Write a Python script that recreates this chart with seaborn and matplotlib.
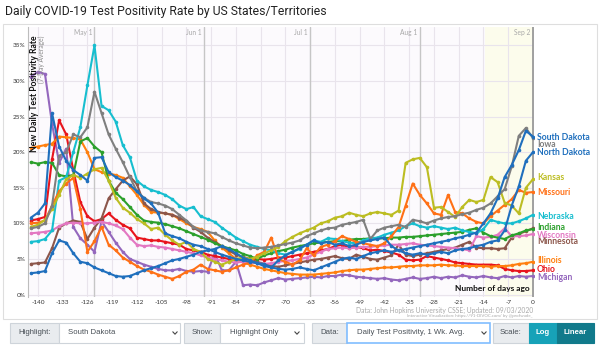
import numpy as np
import pandas as pd
import matplotlib
matplotlib.use("Agg")
import matplotlib.pyplot as plt
from matplotlib.patches import Rectangle
from matplotlib.lines import Line2D
import seaborn as sns

# Days before Sep 2, 2020 (every other day), 7-day average test positivity in %
days = list(range(-142, 1, 2))

south_dakota = [10.8, 11.5, 12.8, 25.5, 20.8, 18.8, 17.5, 16.8,
                16.0, 19.2, 19.3, 17.2, 16.5, 16.0, 15.4, 14.5,
                13.5, 12.8, 11.5, 8.6, 8.2, 7.9, 7.4, 7.0,
                6.8, 6.4, 6.0, 5.6, 5.3, 5.0, 4.8, 4.6,
                4.4, 4.3, 3.8, 4.8, 5.5, 6.0, 6.5, 7.0,
                7.6, 7.2, 7.4, 7.0, 7.2, 6.8, 7.0, 7.4,
                7.6, 7.8, 8.0, 6.8, 6.2, 6.4, 6.6, 6.8,
                7.0, 7.2, 7.4, 7.6, 7.9, 8.1, 8.4, 8.7,
                10.0, 11.4, 13.5, 16.5, 18.2, 20.3, 23.0, 22.2]
iowa = [9.3, 9.5, 10.0, 12.5, 19.5, 20.0, 22.5, 22.1,
        23.5, 28.5, 25.5, 22.5, 20.5, 18.6, 16.5, 14.5,
        13.6, 13.0, 12.8, 12.5, 12.0, 11.2, 10.4, 9.5,
        9.0, 8.8, 8.6, 8.1, 7.6, 7.2, 6.9, 6.6,
        6.5, 6.6, 6.7, 6.9, 7.1, 7.3, 7.6, 8.2,
        8.6, 9.0, 9.3, 9.4, 9.8, 10.0, 10.2, 10.5,
        7.8, 9.0, 9.4, 9.6, 9.8, 9.5, 10.5, 10.3,
        10.0, 10.4, 10.7, 10.9, 11.0, 11.3, 11.5, 11.9,
        12.2, 12.8, 13.8, 14.8, 18.0, 22.3, 23.4, 22.0]
north_dakota = [3.0, 3.1, 3.3, 5.8, 7.6, 7.3, 5.8, 4.6,
                4.4, 3.8, 3.4, 3.0, 2.6, 2.5, 2.6, 3.0,
                3.4, 3.7, 4.0, 4.4, 4.8, 5.0, 5.3, 5.6,
                6.0, 6.2, 6.4, 6.8, 6.4, 5.8, 5.2, 4.8,
                4.4, 4.0, 3.8, 3.6, 3.5, 3.6, 3.8, 3.6,
                3.4, 3.8, 4.2, 4.6, 5.0, 5.2, 5.0, 5.4,
                5.8, 6.0, 6.2, 6.0, 6.2, 5.8, 5.6, 5.8,
                5.6, 5.8, 6.0, 5.8, 6.2, 6.4, 6.5, 6.8,
                7.0, 7.4, 7.6, 9.0, 12.5, 15.2, 18.8, 20.0]
kansas = [9.5, 9.8, 10.5, 12.0, 14.0, 16.2, 16.8, 16.4,
          17.0, 17.6, 17.8, 16.0, 13.6, 12.2, 11.5, 10.6,
          10.0, 9.2, 9.4, 8.4, 7.6, 7.0, 7.4, 6.4,
          6.0, 5.0, 4.6, 4.2, 4.6, 5.0, 5.2, 5.0,
          5.3, 5.8, 6.2, 6.7, 7.5, 8.1, 8.6, 9.0,
          9.4, 10.0, 10.3, 10.8, 11.0, 11.5, 11.2, 11.0,
          11.4, 11.6, 11.4, 11.2, 11.8, 18.5, 19.0, 19.2,
          17.9, 12.2, 12.3, 11.6, 10.9, 12.3, 13.3, 13.0,
          13.3, 16.5, 15.8, 12.9, 12.5, 11.4, 15.0, 16.2]
missouri = [10.0, 10.1, 10.4, 12.5, 14.5, 15.6, 16.4, 12.0,
            6.0, 7.5, 9.5, 7.0, 6.2, 5.2, 4.6, 4.0,
            3.5, 3.2, 2.8, 2.5, 2.2, 2.6, 3.2, 3.5,
            4.2, 3.6, 3.4, 3.2, 3.4, 3.8, 4.2, 4.5,
            5.5, 6.0, 8.0, 5.0, 4.6, 4.2, 4.8, 6.5,
            5.5, 6.7, 7.0, 7.5, 8.2, 7.8, 7.4, 7.2,
            7.0, 6.8, 7.2, 8.2, 9.5, 12.5, 15.6, 14.0,
            12.8, 11.4, 11.2, 14.0, 11.6, 11.4, 10.7, 10.2,
            10.0, 11.0, 11.8, 12.6, 13.4, 14.7, 14.3, 14.4]
nebraska = [7.4, 7.5, 7.8, 9.0, 16.0, 16.5, 20.0, 23.5,
            29.4, 35.0, 26.5, 25.9, 24.3, 21.0, 19.3, 16.0,
            15.2, 14.7, 14.4, 14.0, 13.4, 12.5, 12.0, 12.3,
            11.0, 10.6, 10.2, 9.4, 8.7, 8.0, 7.5, 7.0,
            6.7, 6.4, 6.2, 5.8, 5.6, 6.0, 6.4, 7.0,
            7.6, 7.4, 7.9, 7.8, 7.5, 7.3, 7.2, 7.6,
            7.9, 8.0, 8.4, 8.7, 9.0, 9.6, 10.0, 9.6,
            9.4, 9.6, 9.4, 9.2, 9.4, 9.0, 8.8, 8.6,
            9.2, 10.5, 10.2, 10.0, 10.0, 10.3, 10.7, 11.2]
indiana = [18.6, 18.4, 18.6, 18.5, 16.8, 16.6, 16.8, 21.5,
           22.0, 20.8, 20.0, 16.0, 14.3, 13.4, 12.3, 11.2,
           10.4, 10.2, 10.1, 9.9, 9.6, 9.3, 8.9, 8.5,
           8.1, 7.7, 7.2, 6.8, 6.5, 6.2, 5.7, 5.4,
           5.0, 5.5, 5.8, 6.1, 6.3, 6.6, 6.8, 7.0,
           7.2, 7.3, 7.4, 7.5, 7.5, 7.7, 7.8, 7.8,
           7.9, 7.9, 7.9, 8.0, 8.0, 8.1, 8.1, 8.2,
           8.3, 8.4, 8.5, 8.6, 8.7, 8.8, 9.1, 9.3,
           8.7, 8.2, 8.0, 7.8, 8.3, 8.6, 9.0, 9.2]
wisconsin = [8.6, 8.7, 8.8, 9.0, 9.6, 10.0, 10.1, 10.0,
             10.0, 10.1, 10.2, 10.0, 9.7, 9.2, 8.0, 7.0,
             6.8, 6.9, 6.7, 6.6, 6.4, 6.2, 6.0, 5.8,
             5.5, 5.2, 5.0, 4.8, 4.6, 4.5, 4.6, 4.5,
             4.4, 4.3, 4.4, 4.6, 4.7, 4.8, 5.0, 5.2,
             5.6, 6.0, 6.4, 6.5, 6.6, 6.5, 6.6, 6.7,
             6.7, 6.8, 6.9, 7.0, 7.0, 7.1, 7.2, 7.0,
             6.9, 6.8, 6.7, 6.6, 6.5, 6.4, 6.2, 8.2,
             8.0, 8.1, 8.4, 9.3, 8.2, 8.2, 8.3, 8.5]
minnesota = [4.3, 4.4, 4.5, 6.5, 9.4, 10.0, 10.4, 10.2,
             7.8, 9.4, 10.7, 13.5, 14.8, 16.0, 16.6, 15.5,
             12.8, 12.0, 11.6, 11.4, 11.2, 10.8, 10.3, 9.4,
             8.8, 8.0, 7.4, 6.8, 6.2, 5.6, 5.3, 5.0,
             4.6, 4.3, 4.0, 3.9, 4.1, 4.3, 4.5, 4.7,
             4.9, 5.0, 5.2, 5.4, 5.1, 5.0, 5.6, 5.3,
             5.0, 4.9, 5.2, 5.5, 7.0, 5.6, 5.4, 5.6,
             5.8, 6.0, 6.2, 6.4, 6.6, 7.0, 7.4, 6.6,
             6.5, 6.5, 6.4, 6.5, 8.0, 8.5, 8.9, 9.3]
illinois = [20.6, 20.8, 21.0, 21.2, 22.2, 22.1, 22.0, 21.8,
            20.0, 17.6, 17.2, 17.0, 16.8, 16.4, 15.2, 14.0,
            12.6, 11.6, 11.5, 11.4, 11.2, 10.6, 10.0, 9.5,
            9.2, 8.8, 7.6, 6.6, 5.8, 5.0, 4.5, 4.2,
            3.9, 3.6, 3.4, 3.2, 3.0, 2.9, 2.8, 2.8,
            2.8, 2.9, 3.0, 3.1, 3.3, 3.4, 3.5, 3.5,
            3.6, 3.7, 3.8, 3.8, 3.9, 4.0, 4.0, 4.1,
            4.1, 4.1, 4.2, 4.1, 4.1, 4.0, 4.0, 4.0,
            4.0, 3.9, 4.0, 4.0, 4.1, 4.3, 4.4, 4.6]
ohio = [10.4, 10.6, 10.9, 19.0, 24.5, 22.5, 17.5, 13.0,
        11.0, 10.3, 10.6, 11.4, 10.5, 9.8, 9.3, 8.0,
        7.8, 7.6, 7.6, 7.4, 7.2, 7.0, 6.4, 6.2,
        6.0, 5.6, 5.4, 5.2, 5.0, 4.8, 4.9, 5.0,
        5.0, 4.9, 5.0, 5.2, 5.2, 5.4, 5.6, 5.8,
        6.0, 6.2, 6.4, 6.8, 7.0, 6.6, 6.7, 6.5,
        6.2, 6.3, 6.1, 5.9, 5.6, 4.9, 4.8, 4.9,
        5.4, 5.2, 5.0, 4.8, 4.5, 4.4, 4.3, 4.2,
        4.2, 4.2, 4.1, 3.6, 3.4, 3.3, 3.3, 3.4]
michigan = [30.6, 31.3, 31.0, 24.0, 18.5, 20.5, 9.5, 7.9,
            7.0, 6.0, 10.3, 8.8, 7.3, 6.0, 5.0, 4.6,
            4.2, 3.9, 3.6, 3.4, 3.4, 3.6, 3.3, 3.2,
            3.3, 3.2, 5.8, 3.4, 3.4, 4.6, 1.3, 1.4,
            1.3, 1.7, 2.0, 2.3, 2.1, 2.2, 2.3, 2.4,
            2.5, 2.4, 2.6, 2.6, 2.8, 2.7, 2.5, 2.4,
            2.3, 2.2, 2.3, 2.1, 2.0, 2.2, 2.4, 2.2,
            2.3, 2.5, 2.3, 2.5, 2.4, 2.7, 2.5, 2.4,
            2.6, 2.4, 2.3, 2.6, 2.4, 2.6, 2.5, 2.6]

states = ["Michigan", "Ohio", "Illinois", "Minnesota", "Wisconsin", "Indiana",
          "Nebraska", "Missouri", "Kansas", "North Dakota", "Iowa", "South Dakota"]
values = {"South Dakota": south_dakota, "Iowa": iowa, "North Dakota": north_dakota,
          "Kansas": kansas, "Missouri": missouri, "Nebraska": nebraska,
          "Indiana": indiana, "Wisconsin": wisconsin, "Minnesota": minnesota,
          "Illinois": illinois, "Ohio": ohio, "Michigan": michigan}
colors = {"South Dakota": "#1f6fbd", "Iowa": "#7f7f7f", "North Dakota": "#1f6fbd",
          "Kansas": "#bcbd22", "Missouri": "#ff7016", "Nebraska": "#17becf",
          "Indiana": "#2ca02c", "Wisconsin": "#e377c2", "Minnesota": "#8c564b",
          "Illinois": "#ff7f0e", "Ohio": "#e8141c", "Michigan": "#9467bd"}
# vertical position (in %) of the end-of-line name labels, spread to limit overlap
label_pos = {"South Dakota": 22.1, "Iowa": 21.05, "North Dakota": 20.0,
             "Kansas": 16.5, "Missouri": 14.4, "Nebraska": 10.9,
             "Indiana": 9.35, "Wisconsin": 8.35, "Minnesota": 7.5,
             "Illinois": 4.85, "Ohio": 3.55, "Michigan": 2.45}

month_days = [-124, -93, -63, -32, 0]
month_names = ["May 1", "Jun 1", "Jul 1", "Aug 1", "Sep 2"]
x_ticks = list(range(-140, 1, 7))
y_ticks = list(range(0, 36, 5))

W, H = 600, 346
sns.set_theme(style="white")
plt.rcParams["font.family"] = ["Lato", "DejaVu Sans"]

df = pd.DataFrame([(s, d, v) for s in states for d, v in zip(days, values[s])],
                  columns=["state", "day", "pct"])


def fx(px):
    return px / W


def fy(py):
    return 1 - py / H


fig = plt.figure(figsize=(W / 100, H / 100), dpi=100)
fig.patch.set_facecolor("white")

# outer chart frame
fig.add_artist(Rectangle((fx(3), fy(319)), fx(597) - fx(3), fy(24) - fy(319),
                         transform=fig.transFigure, facecolor="none",
                         edgecolor="#dedede", lw=0.8))

fig.text(fx(5), fy(11), "Daily COVID-19 Test Positivity Rate by US States/Territories",
         family=["Roboto", "DejaVu Sans"], fontsize=8.8, color="#222222",
         ha="left", va="center")

ax = fig.add_axes([fx(28), fy(297), fx(534) - fx(28), fy(27) - fy(297)])
ax.set_facecolor("#fcfafd")
ax.set_xlim(-142.8, 0.3)
ax.set_ylim(-0.35, 37.6)

ax.axvspan(-13.6, 0, color="#fcfcec", lw=0, zorder=0.3)
for t in x_ticks:
    ax.axvline(t, color="#e9e4ec", lw=0.8, zorder=0.5)
for v in y_ticks:
    ax.axhline(v, color="#e9e4ec", lw=0.8, zorder=0.5)
for d, name in zip(month_days, month_names):
    ax.axvline(d, color="#9a9a9a" if d == 0 else "#c6c6c6",
               lw=1.3 if d == 0 else 1.0, zorder=0.6)
    ax.text(d - 0.7, 37.35, name, ha="right", va="top", fontsize=4.8, color="#a8a8a8")

sns.lineplot(data=df, x="day", y="pct", hue="state", hue_order=states, palette=colors,
             marker="o", markersize=2.6, markeredgewidth=0, linewidth=1.5,
             legend=False, ax=ax, zorder=3)

ax.set_xlabel("")
ax.set_ylabel("")
ax.set_xticks(x_ticks)
ax.set_xticklabels([str(t) for t in x_ticks])
ax.set_yticks(y_ticks)
ax.set_yticklabels([f"{v}%" for v in y_ticks])
ax.tick_params(length=0, labelsize=4.6, colors="#333333", pad=2)
for side in ["top", "right", "bottom"]:
    ax.spines[side].set_visible(False)
ax.spines["left"].set_color("#bdbdbd")
ax.spines["left"].set_linewidth(0.8)

ax.text(-141.1, 36.4, "New Daily Test Positivity Rate", rotation=90, ha="center",
        va="top", fontsize=6.2, fontweight="bold", color="#111111", zorder=5)
ax.text(-138.9, 36.4, "(7-Day Average)", rotation=90, ha="center", va="top",
        fontsize=4.8, color="#8a8a8a", zorder=5)
ax.text(-0.9, 0.8, "Number of days ago", ha="right", va="center", fontsize=6,
        fontweight="bold", color="#111111", zorder=5)

for s in states:
    ax.text(1.1, label_pos[s], s, color=colors[s], fontsize=6.2, fontweight="bold",
            ha="left", va="center", clip_on=False)

fig.text(fx(533), fy(310), "Data: John Hopkins University CSSE; Updated: 09/03/2020",
         ha="right", va="center", fontsize=4.9, color="#a9a9a9")
fig.text(fx(533), fy(316), "Interactive Visualization: https://91-DIVOC.com/ by @profwade_",
         ha="right", va="center", fontsize=3.2, color="#a9a9a9")

# control bar below the chart
ui_font = ["Liberation Sans", "DejaVu Sans"]


def box(x0, x1, face, edge, lw=0.8):
    fig.add_artist(Rectangle((fx(x0), fy(343)), fx(x1) - fx(x0), fy(323) - fy(343),
                             transform=fig.transFigure, facecolor=face,
                             edgecolor=edge, lw=lw))


def chevron(cx):
    cy = 333
    fig.add_artist(Line2D([fx(cx - 2.2), fx(cx), fx(cx + 2.2)],
                          [fy(cy - 1.2), fy(cy + 1.2), fy(cy - 1.2)],
                          transform=fig.transFigure, color="#444444", lw=0.8))


def ui_text(x, s, color="#495057", ha="left", weight="normal"):
    fig.text(fx(x), fy(333), s, ha=ha, va="center", fontsize=5.6, color=color,
             family=ui_font, fontweight=weight)


box(10, 59, "#e9ecef", "#ced4da")
ui_text(34.5, "Highlight:", ha="center")
box(59, 180, "white", "#ced4da")
ui_text(68, "South Dakota")
chevron(175)

box(184, 220, "#e9ecef", "#ced4da")
ui_text(202, "Show:", ha="center")
box(220, 304, "white", "#ced4da")
ui_text(230, "Highlight Only")
chevron(297)

box(312, 347, "#e9ecef", "#ced4da")
ui_text(329.5, "Data:", ha="center")
box(347, 490, "white", "#80bdff", lw=1.2)
ui_text(357, "Daily Test Positivity, 1 Wk. Avg.")
chevron(484)

box(493, 529, "#e9ecef", "#ced4da")
ui_text(511, "Scale:", ha="center")
box(529, 557, "#17a2b8", "#17a2b8")
ui_text(543, "Log", color="white", ha="center", weight="bold")
box(557, 594, "#117a8b", "#117a8b")
ui_text(575.5, "Linear", color="white", ha="center", weight="bold")

fig.savefig("out.png", dpi=100)
